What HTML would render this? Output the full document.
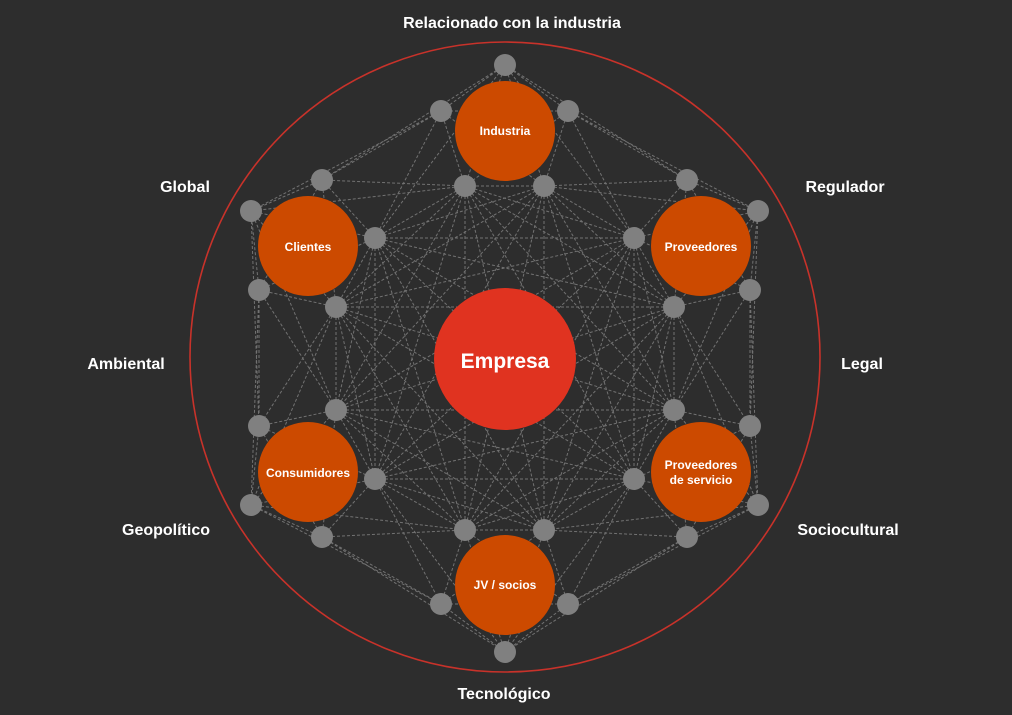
<!DOCTYPE html>
<html><head><meta charset="utf-8"><style>
html,body{margin:0;padding:0;background:#2d2d2d;}
svg{display:block}
text{font-family:"Liberation Sans",sans-serif;font-weight:bold;fill:#fff;text-anchor:middle}
</style></head><body>
<svg id="s" width="1012" height="715" viewBox="0 0 1012 715">
<rect width="1012" height="715" fill="#2d2d2d"/>
<circle cx="505" cy="357" r="315" fill="none" stroke="#c8322a" stroke-width="1.6"/>
<g id="lines" stroke="#a0a0a0" stroke-width="1" stroke-dasharray="3,2" opacity="0.6"></g>
<g id="nodes" fill="#808080"></g>
<g fill="#cc4a00">
<circle cx="505" cy="131" r="50"/><circle cx="308" cy="246" r="50"/><circle cx="701" cy="246" r="50"/>
<circle cx="308" cy="472" r="50"/><circle cx="701" cy="472" r="50"/><circle cx="505" cy="585" r="50"/>
</g>
<circle cx="505" cy="359" r="71" fill="#e03320"/>
<g font-size="12">
<text x="505" y="135">Industria</text>
<text x="308" y="251">Clientes</text>
<text x="701" y="251">Proveedores</text>
<text x="308" y="477">Consumidores</text>
<text x="701" y="469">Proveedores</text>
<text x="701" y="484">de servicio</text>
<text x="505" y="589">JV / socios</text>
</g>
<text x="505" y="368" font-size="21">Empresa</text>
<g font-size="16">
<text x="512" y="28">Relacionado con la industria</text>
<text x="185" y="192">Global</text>
<text x="845" y="192">Regulador</text>
<text x="126" y="369">Ambiental</text>
<text x="862" y="369">Legal</text>
<text x="166" y="535">Geopolítico</text>
<text x="848" y="535">Sociocultural</text>
<text x="504" y="699">Tecnológico</text>
</g>
</svg>
<script>
var g=[
[[505,65],[568,111],[544,186],[465,186],[441,111]],
[[322,180],[375,238],[336,307],[259,290],[251,211]],
[[687,180],[758,211],[750,290],[674,307],[634,238]],
[[336,410],[375,479],[322,537],[251,505],[259,426]],
[[674,410],[750,426],[758,505],[687,537],[634,479]],
[[465,530],[544,530],[568,604],[505,652],[441,604]]];
var all=[];g.forEach(function(a){a.forEach(function(p){all.push(p)})});
function inner(p){var dx=p[0]-505,dy=p[1]-359;return Math.sqrt(dx*dx+dy*dy)<200;}
var L=document.getElementById('lines'),N=document.getElementById('nodes'),h='';
for(var i=0;i<all.length;i++)for(var j=i+1;j<all.length;j++){
var dx=all[i][0]-all[j][0],dy=all[i][1]-all[j][1],d=Math.sqrt(dx*dx+dy*dy);
if(d<220||(inner(all[i])&&inner(all[j])))h+='<line x1="'+all[i][0]+'" y1="'+all[i][1]+'" x2="'+all[j][0]+'" y2="'+all[j][1]+'"/>';}
L.innerHTML=h;h='';
all.forEach(function(p){h+='<circle cx="'+p[0]+'" cy="'+p[1]+'" r="11"/>'});
N.innerHTML=h;
</script>
</body></html>
